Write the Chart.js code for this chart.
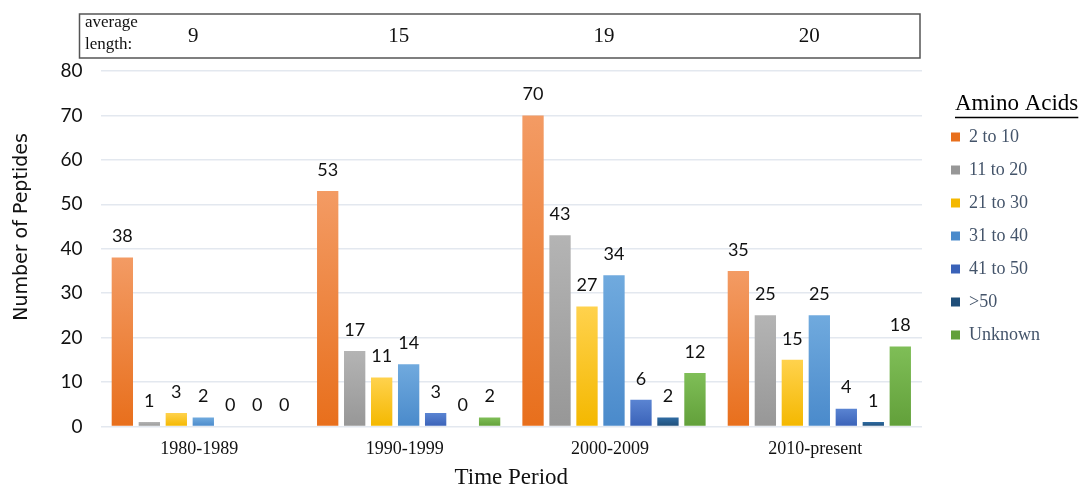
<!DOCTYPE html>
<html><head><meta charset="utf-8">
<script src="https://cdn.jsdelivr.net/npm/chart.js@4"></script>
<style>html,body{margin:0;padding:0;background:#fff}#wrap{width:1080px;height:489px}</style>
</head><body><div id="wrap"><canvas id="c" width="1080" height="489"></canvas></div>
<script>
const categories = ["1980-1989", "1990-1999", "2000-2009", "2010-present"];
const averageLength = [9, 15, 19, 20];
const seriesNames = ["2 to 10", "11 to 20", "21 to 30", "31 to 40", "41 to 50", ">50", "Unknown"];
const s2to10 = [38, 53, 70, 35];
const s11to20 = [1, 17, 43, 25];
const s21to30 = [3, 11, 27, 15];
const s31to40 = [2, 14, 34, 25];
const s41to50 = [0, 3, 6, 4];
const sOver50 = [0, 0, 2, 1];
const sUnknown = [0, 2, 12, 18];
const yTicks = [0, 10, 20, 30, 40, 50, 60, 70, 80];
const legendTitle = "Amino Acids";
const yTitle = "Number of Peptides";

const seriesValues = [s2to10, s11to20, s21to30, s31to40, s41to50, sOver50, sUnknown];
const colorPairs = [
  ["#F39B64", "#E86F1C"],
  ["#B4B4B4", "#979797"],
  ["#FFD24D", "#F4B800"],
  ["#70AADE", "#4A8ACB"],
  ["#5A84D2", "#3A62B8"],
  ["#2F6CA3", "#1F4E79"],
  ["#7FBE57", "#62A03A"]
];

function gradFor(i) {
  return function (ctx) {
    const chart = ctx.chart;
    const pair = colorPairs[i];
    if (ctx.type !== 'data' || !chart.chartArea || !chart.scales.y) return pair[1];
    const y = chart.scales.y;
    const v = ctx.raw || 0;
    const top = y.getPixelForValue(v);
    const bot = y.getPixelForValue(0);
    if (bot - top < 1) return pair[1];
    const g = chart.ctx.createLinearGradient(0, top, 0, bot);
    g.addColorStop(0, pair[0]);
    g.addColorStop(1, pair[1]);
    return g;
  };
}

const datasets = seriesNames.map((n, i) => ({
  label: n,
  data: seriesValues[i],
  backgroundColor: gradFor(i),
  borderWidth: 0,
  categoryPercentage: 0.92,
  barPercentage: 0.79
}));

const legendSwatch = colorPairs.map(p => p[1]);
const LEG_PAD = 15;

const valueLabels = {
  id: 'valueLabels',
  afterDatasetsDraw(chart) {
    const ctx = chart.ctx;
    ctx.save();
    ctx.font = '18px Lato, "Liberation Sans", sans-serif';
    ctx.fillStyle = '#111';
    ctx.textAlign = 'center';
    ctx.textBaseline = 'middle';
    chart.data.datasets.forEach((ds, di) => {
      const meta = chart.getDatasetMeta(di);
      meta.data.forEach((bar, idx) => {
        ctx.fillText(String(ds.data[idx]), bar.x, bar.y - 21);
      });
    });
    ctx.restore();
  }
};

const extras = {
  id: 'extras',
  afterDraw(chart) {
    const ctx = chart.ctx;
    const ca = chart.chartArea;
    const x = chart.scales.x;
    ctx.save();
    // average length box
    ctx.strokeStyle = '#555';
    ctx.lineWidth = 1.5;
    ctx.strokeRect(79.5, 14, ca.right - 2 - 79.5, 44);
    ctx.fillStyle = '#111';
    ctx.font = '17px "Liberation Serif", serif';
    ctx.textAlign = 'left';
    ctx.textBaseline = 'middle';
    ctx.fillText('average', 85, 23);
    ctx.fillText('length:', 85, 45);
    ctx.font = '21px "Liberation Serif", serif';
    ctx.textAlign = 'center';
    averageLength.forEach((v, i) => {
      ctx.fillText(String(v), x.getPixelForValue(i) - 10, 36);
    });
    // legend title, underlined
    const lg = chart.legend;
    if (lg) {
      ctx.font = '23px "Liberation Serif", serif';
      ctx.textAlign = 'left';
      ctx.textBaseline = 'middle';
      ctx.fillStyle = '#000';
      const tx = lg.left + 19;
      const ty = lg.top + 21 + 11.5;
      ctx.fillText(legendTitle, tx, ty);
      const w = ctx.measureText(legendTitle).width;
      ctx.strokeStyle = '#000';
      ctx.lineWidth = 1.6;
      ctx.beginPath();
      ctx.moveTo(tx, ty + 14);
      ctx.lineTo(tx + w, ty + 14);
      ctx.stroke();
    }
    // y axis title
    ctx.save();
    ctx.translate(22, 227);
    ctx.rotate(-Math.PI / 2);
    ctx.font = '19px "DejaVu Sans", sans-serif';
    ctx.fillStyle = '#111';
    ctx.textAlign = 'center';
    ctx.textBaseline = 'middle';
    ctx.fillText(yTitle, 0, 0);
    ctx.restore();
    ctx.restore();
  }
};

new Chart(document.getElementById('c'), {
  type: 'bar',
  data: { labels: categories, datasets },
  plugins: [valueLabels, extras],
  options: {
    responsive: false,
    animation: false,
    layout: { padding: { top: 71, right: 30, left: 14, bottom: 0 } },
    plugins: {
      tooltip: { enabled: false },
      legend: {
        position: 'right',
        align: 'start',
        title: {
          display: true,
          text: legendTitle,
          position: 'start',
          color: 'rgba(0,0,0,0)',
          font: { family: '"Liberation Serif", serif', size: 23, lineHeight: 1.0 },
          padding: { top: 21, bottom: -2 }
        },
        labels: {
          boxWidth: 9,
          boxHeight: 9,
          padding: LEG_PAD,
          color: '#44546A',
          font: { family: '"Liberation Serif", serif', size: 18 },
          generateLabels(chart) {
            return chart.data.datasets.map((ds, i) => ({
              text: ds.label,
              fillStyle: legendSwatch[i],
              strokeStyle: legendSwatch[i],
              lineWidth: 0,
              fontColor: '#44546A',
              hidden: false,
              datasetIndex: i
            }));
          }
        }
      }
    },
    scales: {
      x: {
        grid: { display: false },
        border: { display: false },
        ticks: {
          color: '#111',
          font: { family: '"Liberation Serif", serif', size: 18 },
          padding: 4,
          labelOffset: -4
        },
        title: {
          display: true,
          text: 'Time Period',
          color: '#111',
          font: { family: '"Liberation Serif", serif', size: 23, lineHeight: 1.0 },
          padding: { top: 2, bottom: 0 }
        }
      },
      y: {
        min: 0, max: 80,
        afterBuildTicks(axis) { axis.ticks = yTicks.map(v => ({ value: v })); },
        grid: { color: '#E3E8EF', lineWidth: 1.5, drawTicks: false },
        border: { display: false },
        ticks: {
          color: '#111',
          font: { family: 'Lato, sans-serif', size: 19 },
          padding: 18
        },
        title: {
          display: true,
          text: yTitle,
          color: 'rgba(0,0,0,0)',
          font: { family: '"DejaVu Sans", sans-serif', size: 18 },
          padding: { top: 0, bottom: 7 }
        }
      },
      gap: {
        type: 'linear',
        position: 'right',
        display: true,
        grid: { display: false },
        border: { display: false },
        ticks: { display: false },
        afterFit(axis) { axis.width = 14; }
      }
    }
  }
});
</script>
</body></html>
